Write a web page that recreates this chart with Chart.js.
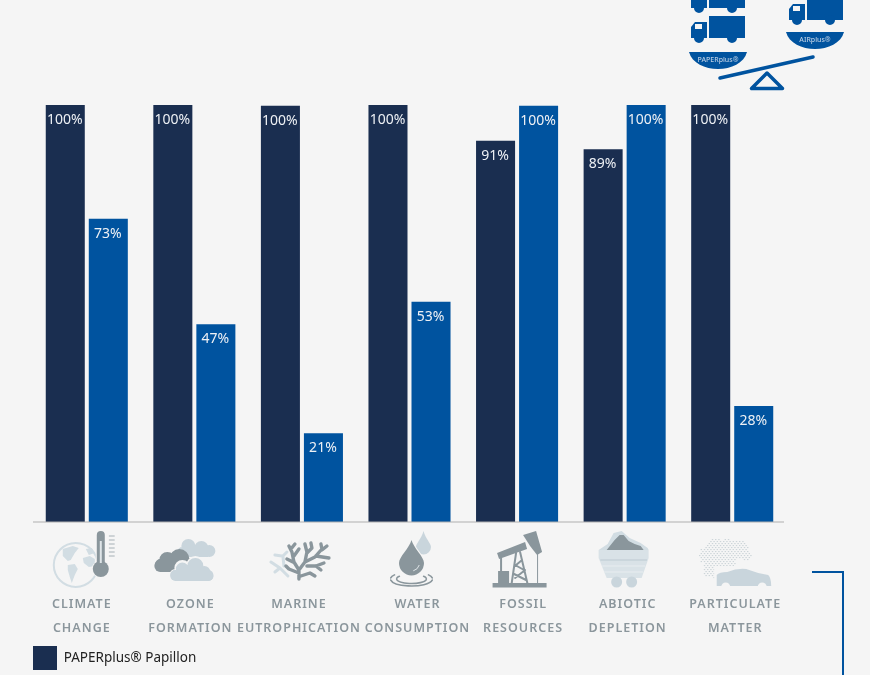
<!DOCTYPE html>
<html><head><meta charset="utf-8">
<script src="https://cdn.jsdelivr.net/npm/chart.js@4"></script>
<style>html,body{margin:0;padding:0;background:#f5f5f5;overflow:hidden}#w{width:870px;height:675px;position:relative}</style>
</head><body><div id="w"><canvas id="c"></canvas></div>
<script>
const categories=[["CLIMATE","CHANGE"],["OZONE","FORMATION"],["MARINE","EUTROPHICATION"],["WATER","CONSUMPTION"],["FOSSIL","RESOURCES"],["ABIOTIC","DEPLETION"],["PARTICULATE","MATTER"]];
const labelShift=[-5,-4,-3,8,6,3,3];
const paperplusValues=[100,100,99.8,100,91.4,89.4,100];
const airplusValues=[72.7,47.4,21.3,52.8,99.8,100,27.8];
const seriesNames=["PAPERplus® Papillon","AIRplus®"];
const DARK="#1a2e50",BLUE="#00539f",GR="#8a969c",LT="#c9d5dc",PALE="#d2dde3",BG="#f5f5f5";

function circles(ctx,list,color){ctx.fillStyle=color;ctx.beginPath();for(const [x,y,r] of list){ctx.moveTo(x+r,y);ctx.arc(x,y,r,0,Math.PI*2);}ctx.fill();}
function poly(ctx,pts,color){ctx.fillStyle=color;ctx.beginPath();pts.forEach((p,i)=>i?ctx.lineTo(p[0],p[1]):ctx.moveTo(p[0],p[1]));ctx.closePath();ctx.fill();}
function lines(ctx,segs,color,w){ctx.strokeStyle=color;ctx.lineWidth=w;ctx.lineCap="round";ctx.lineJoin="round";ctx.beginPath();for(const s of segs){s.forEach((p,i)=>i?ctx.lineTo(p[0],p[1]):ctx.moveTo(p[0],p[1]));}ctx.stroke();}

function truck(ctx,x,y){
  ctx.fillStyle=BLUE;
  ctx.fillRect(x+18,y,36,22);
  poly(ctx,[[x,y+11],[x+4,y+6],[x+16,y+6],[x+16,y+22],[x,y+22]],BLUE);
  ctx.fillStyle=BG;ctx.fillRect(x+4,y+8,7,5);
  circles(ctx,[[x+8,y+22,5],[x+41,y+22,5]],BLUE);
}
function dish(ctx,x,y,w,h,label){
  ctx.fillStyle=BLUE;ctx.beginPath();ctx.moveTo(x,y);ctx.lineTo(x+w,y);
  ctx.bezierCurveTo(x+w-6,y+h*1.33,x+6,y+h*1.33,x,y);ctx.fill();
  ctx.fillStyle="#b9cde3";ctx.font="500 7px 'Noto Sans'";ctx.textAlign="center";ctx.textBaseline="middle";
  ctx.fillText(label,x+w/2,y+7.5);
}
function climate(ctx,c){
  ctx.strokeStyle=PALE;ctx.lineWidth=2;ctx.beginPath();ctx.arc(c-11,565,22,0,Math.PI*2);ctx.stroke();
  poly(ctx,[[c-24,549],[c-14,546],[c-8,548],[c-12,553],[c-16,560],[c-19,561],[c-24,556]],PALE);
  poly(ctx,[[c-19,565],[c-12,564],[c-9,569],[c-12,575],[c-15,583],[c-17,577],[c-19,570]],PALE);
  poly(ctx,[[c-4,558],[c+3,556],[c+8,559],[c+8,566],[c+2,567],[c-3,563]],PALE);
  poly(ctx,[[c-1,549],[c+5,548],[c+8,553],[c+2,555]],PALE);
  ctx.fillStyle=BG;ctx.beginPath();ctx.roundRect(c+9,530,10,40,5);ctx.fill();circles(ctx,[[c+14,569,9]],BG);
  ctx.fillStyle=GR;ctx.beginPath();ctx.roundRect(c+10,531,8,38,4);ctx.fill();
  circles(ctx,[[c+14,569,8]],GR);
  ctx.fillStyle="#dfe5e8";ctx.fillRect(c+13,541,2,22);
  lines(ctx,[536,540,544,548,552,556].map(y=>[[c+22.5,y],[c+27.5,y]]),"#a6b0b6",1);
}
function ozone(ctx,c){
  circles(ctx,[[c-12,552,5],[c-6,546,7],[c+7,548,7],[c+15,551,6]],LT);
  ctx.fillStyle=LT;ctx.fillRect(c-10,548,24,9);
  circles(ctx,[[c-33,565,6.5],[c-27,560,8],[c-15,559,10],[c-6,565,7]],GR);
  ctx.fillStyle=GR;ctx.beginPath();ctx.roundRect(c-40,560,34,12,6);ctx.fill();
  circles(ctx,[[c-19,575,6],[c-12,568,8],[c+1,565,9],[c+11,571,7],[c+15,576,6]],BG);
  circles(ctx,[[c-19,575,5],[c-12,569,6.5],[c+1,566,8],[c+10,572,6],[c+14,576,5]],LT);
  ctx.fillStyle=LT;ctx.beginPath();ctx.roundRect(c-24,570,43,11,5);ctx.fill();
}
function coral(ctx,c){
  lines(ctx,[[[c-14,576],[c-22,568],[c-31,562]],[[c-22,568],[c-27,572]],[[c-20,556],[c-27,555]],[[c-18,566],[c-19,556],[c-15,552]]],PALE,3);
  lines(ctx,[
    [[c-3,579],[c-3,570]],[[c-3,570],[c-8,562],[c-10,552],[c-13,546]],[[c-8,556],[c-3,549]],[[c-9,562],[c-15,559]],[[c-11,549],[c-7,544]],
    [[c-3,573],[c-13,569],[c-16,566]],[[c-3,570],[c+3,562],[c+5,552],[c+3,544]],[[c+5,553],[c+10,548],[c+9,543]],
    [[c+3,562],[c+13,557],[c+20,549],[c+19,544]],[[c+14,556],[c+27,558]],[[c+20,550],[c+25,546]],
    [[c+5,566],[c+14,566],[c+22,563]],[[c+14,566],[c+19,570]],[[c-1,576],[c+8,573],[c+13,576]]
  ],GR,3.4);
}
function water(ctx,c){
  const drop=(x,top,r,cy,col)=>{ctx.fillStyle=col;ctx.beginPath();ctx.moveTo(x,top);ctx.bezierCurveTo(x+2,top+8,x+r,cy-r*.5,x+r,cy);ctx.arc(x,cy,r,0,Math.PI);ctx.bezierCurveTo(x-r,cy-r*.5,x-2,top+8,x,top);ctx.fill();};
  drop(c+14,531,7.5,547,LT);
  drop(c+2,538,13.5,563,BG);
  drop(c+2,540,12.5,563,GR);
  ctx.strokeStyle="#dfe5e8";ctx.lineWidth=1;ctx.beginPath();ctx.arc(c+2,563,8,0.3,1.3);ctx.stroke();
  ctx.strokeStyle=GR;ctx.lineWidth=1.6;
  [[21,7],[15,4.5]].forEach(([a,b])=>{ctx.beginPath();ctx.ellipse(c+2,579,a,b,0,0.05*Math.PI,0.95*Math.PI);ctx.stroke();ctx.beginPath();ctx.ellipse(c+2,579,a,b,0,1.05*Math.PI,1.2*Math.PI);ctx.stroke();ctx.beginPath();ctx.ellipse(c+2,579,a,b,0,1.8*Math.PI,1.95*Math.PI);ctx.stroke();});
}
function fossil(ctx,c){
  ctx.fillStyle=GR;ctx.fillRect(c-24.5,583,54,4.5);
  ctx.fillRect(c-19,571,11,12);
  poly(ctx,[[c-20,553],[c+8,542],[c+10,549],[c-18,559]],GR);
  poly(ctx,[[c+6,535],[c+19,531],[c+25,552],[c+20,555],[c+13,546]],GR);
  lines(ctx,[[[c-5.5,584],[c-1,553]],[[c+10.5,584],[c+3,552]],[[c-3,574],[c+9,580]],[[c+8,570],[c-2,578]],[[c-2,565],[c+7,570]],[[c+5,560],[c-1,565]],[[c-16,558],[c-16,572]]],GR,2);
  lines(ctx,[[[c+20.5,554],[c+20.5,583]]],GR,1);
}
function cart(ctx,c){
  poly(ctx,[[c-26,550],[c-17,544],[c-11,533],[c-3,531],[c+5,538],[c+16,543],[c+23,548],[c+24,550]],PALE);
  poly(ctx,[[c-18,550],[c-10,540],[c-5,535],[c-1,535],[c+4,541],[c+10,544],[c+16,546],[c+19,550]],GR);
  ctx.fillStyle="#d9e2e7";ctx.beginPath();ctx.moveTo(c-26,550);ctx.lineTo(c+24,550);ctx.lineTo(c+24,558);ctx.lineTo(c+17,578);ctx.lineTo(c-18,578);ctx.lineTo(c-26,558);ctx.closePath();ctx.fill();
  lines(ctx,[[[c-24,560],[c+22,560]]],"#bcc9d1",1);
  lines(ctx,[[[c-22,566],[c+20,566]],[[c-20,572],[c+18,572]]],"#e8edf0",1);
  circles(ctx,[[c-8,582,5.5],[c+7,582,5.5]],LT);
}
function particulate(ctx,c){
  const blob=[[c-25,555,9],[c-18,548,10],[c-6,549,11],[c+7,549,9],[c+14,556,5],[c-20,563,9],[c-24,570,6],[c-8,560,11],[c-16,574,5]];
  ctx.fillStyle="#cdd5d9";
  let odd=false;
  for(let y=535;y<586;y+=2){odd=!odd;for(let x=c-38;x<c+25;x+=3.2){const px=x+(odd?1.6:0);
    if(blob.some(b=>Math.hypot(px-b[0],y-b[1])<b[2]))ctx.fillRect(px,y,1.4,1.1);}}
  ctx.fillStyle=BG;ctx.fillRect(c-18,566,58,21);
  ctx.fillStyle=LT;ctx.beginPath();ctx.moveTo(c-15.5,586);ctx.lineTo(c-15.5,575);ctx.quadraticCurveTo(c-13,572,c-5,572);ctx.quadraticCurveTo(c+5,568,c+14,569);ctx.quadraticCurveTo(c+24,573,c+36,575);ctx.quadraticCurveTo(c+39,578,c+39,586);ctx.closePath();ctx.fill();
  circles(ctx,[[c-6.5,587,4.5],[c+30,587,4.5]],BG);
}
const iconFns=[climate,ozone,coral,water,fossil,cart,particulate];

const decor={id:"decor",
  beforeDraw(chart){
    const items=chart.scales.x.getLabelItems();
    if(!items._shifted){items.forEach((it,i)=>{it.options.translation=[it.options.translation[0]+labelShift[i],it.options.translation[1]];});items._shifted=true;}
  },
  afterDatasetsDraw(chart){
    const ctx=chart.ctx;
    ctx.save();ctx.letterSpacing="0px";ctx.fillStyle="#eef1f5";ctx.font="14px 'Noto Sans'";ctx.textAlign="center";ctx.textBaseline="middle";
    chart.data.datasets.forEach((d,i)=>chart.getDatasetMeta(i).data.forEach((bar,j)=>{
      ctx.fillText(Math.round(d.data[j])+"%",bar.x-0.5,bar.y+15);
    }));
    ctx.restore();
    ctx.save();
    const xs=chart.scales.x;
    ctx.fillStyle="#b0b0b0";ctx.fillRect(33,xs.top-0.5,751,1);
    iconFns.forEach((fn,i)=>fn(ctx,xs.getPixelForTick(i)));
    truck(ctx,691,-14);truck(ctx,691,16);truck(ctx,789,-2);
    dish(ctx,689,52,58,17,"PAPERplus®");
    dish(ctx,786,32,58,17,"AIRplus®");
    lines(ctx,[[[720,78],[813,57]]],BLUE,3.5);
    lines(ctx,[[[767,73],[751.5,88.5],[782.5,88.5],[767,73]]],BLUE,3.5);
    ctx.fillStyle=BLUE;ctx.fillRect(812,571,32,2);ctx.fillRect(842,571,2,104);
    ctx.restore();
    ctx.letterSpacing="1px";
  },
  afterDraw(chart){chart.ctx.letterSpacing="0px";}
};

new Chart(document.getElementById("c"),{
  type:"bar",
  data:{labels:categories,datasets:[
    {label:seriesNames[0],data:paperplusValues,backgroundColor:DARK,borderWidth:0,categoryPercentage:.8,barPercentage:.907},
    {label:seriesNames[1],data:airplusValues,backgroundColor:BLUE,borderWidth:0,categoryPercentage:.8,barPercentage:.907}
  ]},
  plugins:[decor],
  options:{
    responsive:true,maintainAspectRatio:false,animation:false,
    layout:{padding:{left:33,right:84,top:105,bottom:-5}},
    plugins:{
      tooltip:{enabled:false},title:{display:false},
      legend:{display:true,position:"bottom",align:"start",
        labels:{boxWidth:24,boxHeight:24,padding:0,color:"#222",font:{family:"'Noto Sans'",size:13.5},
          filter:(it)=>it.datasetIndex===0}}
    },
    scales:{
      x:{offset:true,
        grid:{display:false},
        border:{display:false},
        afterFit(s){s.height=124;s.paddingLeft=0;s.paddingRight=0;},
        ticks:{z:1,autoSkip:false,maxRotation:0,minRotation:0,padding:62,color:"#8b969c",
          font:{family:"'Noto Sans'",size:12.5,weight:"600",lineHeight:1.92}}},
      y:{display:false,min:0,max:100}
    }
  }
});
</script></body></html>
